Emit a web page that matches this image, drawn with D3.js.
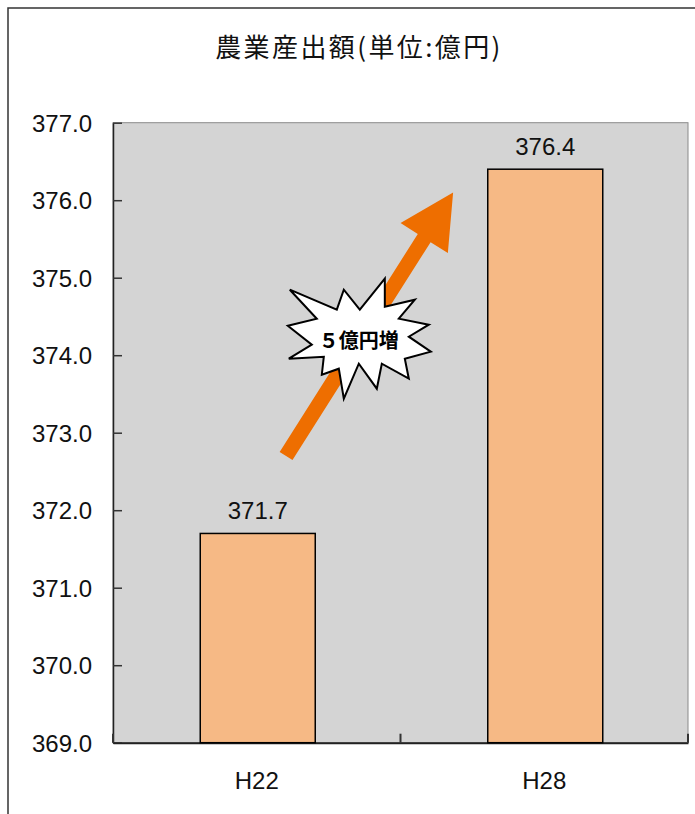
<!DOCTYPE html>
<html><head><meta charset="utf-8">
<script src="https://cdn.jsdelivr.net/npm/d3@7"></script>
<style>
html,body{margin:0;padding:0;background:#fff;}
svg{display:block;}
</style></head>
<body>
<svg id="chart" width="695" height="814"></svg>
<script>
// ---- data ----
const categories = ["H22", "H28"];
const values = [371.7, 376.4];
const valueLabels = ["371.7", "376.4"];
const yTicks = [369, 370, 371, 372, 373, 374, 375, 376, 377];
const title = "農業産出額(単位:億円)";
const annotationText = "５億円増";
// arrow annotation in data space: position along category axis (0..2), value
const arrowFrom = [0.602, 372.7];
const arrowTo = [1.183, 376.1];
const burstCenter = [0.855, 374.2];

const W = 695, H = 814;
const plot = {left: 113, right: 688, top: 122.7, bottom: 742.7};
const svg = d3.select("#chart");

// outer frame
svg.append("path").attr("d", `M8,${H} L8,8 L${W},8`)
  .attr("fill", "none").attr("stroke", "#333").attr("stroke-width", 1.5);

// title
svg.append("text").attr("x", 359).attr("y", 57).attr("text-anchor", "middle")
  .attr("font-family", "'Noto Sans CJK JP', sans-serif").attr("font-size", 26)
  .attr("letter-spacing", 2.4)
  .attr("fill", "#111").text(title);

const y = d3.scaleLinear().domain([369, 377]).range([plot.bottom, plot.top]);
const x = d3.scaleBand().domain(categories).range([plot.left, plot.right]).padding(0);
const xPos = d3.scaleLinear().domain([0, 2]).range([plot.left, plot.right]);

// plot area
svg.append("rect").attr("x", plot.left).attr("y", plot.top)
  .attr("width", plot.right - plot.left).attr("height", plot.bottom - plot.top)
  .attr("fill", "#d4d4d4").attr("stroke", "#8a8a8a").attr("stroke-width", 1);

// y axis
const yAxis = d3.axisLeft(y).tickValues(yTicks).tickFormat(d3.format(".1f"))
  .tickSizeInner(-9).tickSizeOuter(0).tickPadding(21);
const gy = svg.append("g").attr("transform", `translate(${plot.left},0)`).call(yAxis);
gy.select(".domain").attr("stroke", "#222").attr("stroke-width", 1.5);
gy.selectAll(".tick line").attr("stroke", "#333").attr("stroke-width", 1.5);
gy.selectAll(".tick text").attr("font-family", "'Liberation Sans', Arial, sans-serif")
  .attr("font-size", 24).attr("fill", "#111").attr("dy", "0.36em");

// x axis
const xAxis = d3.axisBottom(x).tickSize(0).tickPadding(29);
const gx = svg.append("g").attr("transform", `translate(0,${plot.bottom})`).call(xAxis);
gx.select(".domain").attr("stroke", "#222").attr("stroke-width", 2);
gx.selectAll(".tick text").attr("font-family", "'Liberation Sans', Arial, sans-serif")
  .attr("font-size", 24).attr("fill", "#111");
// category boundary ticks (inward)
const boundaries = [0, 1, 2];
svg.append("g").selectAll("line").data(boundaries).join("line")
  .attr("x1", d => xPos(d)).attr("x2", d => xPos(d))
  .attr("y1", plot.bottom).attr("y2", plot.bottom - 9)
  .attr("stroke", "#333").attr("stroke-width", 2);

// bars
const barW = x.bandwidth() * 0.4;
svg.append("g").selectAll("rect").data(categories).join("rect")
  .attr("x", (d) => x(d) + x.bandwidth() / 2 - barW / 2 + 1)
  .attr("y", (d, i) => y(values[i]))
  .attr("width", barW)
  .attr("height", (d, i) => y(369) - y(values[i]))
  .attr("fill", "#f6b985").attr("stroke", "#000").attr("stroke-width", 1.5);

// value labels
svg.append("g").selectAll("text").data(categories).join("text")
  .attr("x", d => x(d) + x.bandwidth() / 2 + 1)
  .attr("y", (d, i) => y(values[i]) - 14)
  .attr("text-anchor", "middle")
  .attr("font-family", "'Liberation Sans', Arial, sans-serif").attr("font-size", 24)
  .attr("fill", "#111").text((d, i) => valueLabels[i]);

// arrow
const p0 = [xPos(arrowFrom[0]), y(arrowFrom[1])];
const p1 = [xPos(arrowTo[0]), y(arrowTo[1])];
const dx = p1[0] - p0[0], dy = p1[1] - p0[1];
const len = Math.hypot(dx, dy);
const ux = dx / len, uy = dy / len, nx = -uy, ny = ux;
const sw = 7.6, headLen = 54, headW = 28;
const hb = [p1[0] - ux * headLen, p1[1] - uy * headLen];
const arrowPts = [
  [p0[0] + nx * sw, p0[1] + ny * sw],
  [hb[0] + nx * sw, hb[1] + ny * sw],
  [hb[0] + nx * headW, hb[1] + ny * headW],
  p1,
  [hb[0] - nx * headW, hb[1] - ny * headW],
  [hb[0] - nx * sw, hb[1] - ny * sw],
  [p0[0] - nx * sw, p0[1] - ny * sw]
];
svg.append("polygon").attr("points", arrowPts.map(p => p.join(",")).join(" "))
  .attr("fill", "#ee6e00");

// starburst (shape offsets relative to its centre)
const burst = [
  [-69,-50],[-22,-30],[-15,-50],[1,-30],[26,-61],[26,-33],[56,-40],[40,-21],
  [70,-15],[50,-3],[72,12],[46,19],[50,39],[23,24],[18,49],[0,24],
  [-15,59],[-20,29],[-37,35],[-35,17],[-70,19],[-47,5],[-71,-14],[-42,-21]
];
const bc = [xPos(burstCenter[0]), y(burstCenter[1])];
svg.append("polygon")
  .attr("points", burst.map(p => [bc[0] + p[0], bc[1] + p[1]].join(",")).join(" "))
  .attr("fill", "#fff").attr("stroke", "#000").attr("stroke-width", 2)
  .attr("stroke-linejoin", "miter");
svg.append("text").attr("x", bc[0]).attr("y", bc[1] + 8)
  .attr("text-anchor", "middle")
  .attr("font-family", "'Noto Sans CJK JP', sans-serif").attr("font-weight", "bold")
  .attr("font-size", 20).attr("fill", "#000").text(annotationText);
</script>
</body></html>
